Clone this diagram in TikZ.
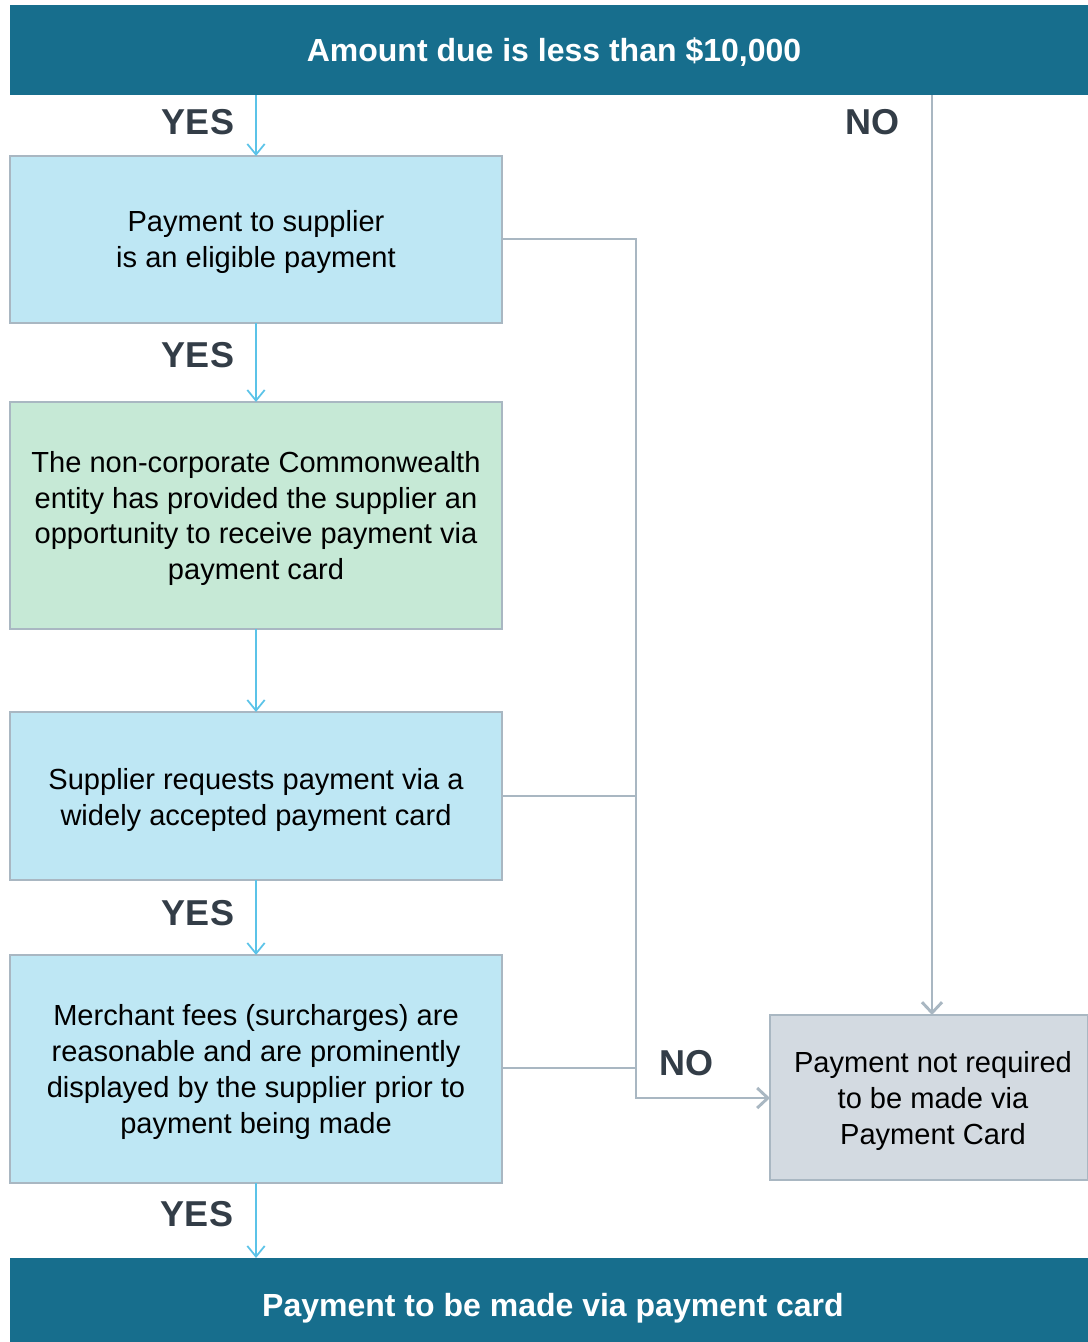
\documentclass[tikz,border=0pt]{standalone}
\usepackage{fontspec}
\setmainfont{Liberation Sans}
\usetikzlibrary{arrows.meta}
\definecolor{bar}{HTML}{176E8D}
\definecolor{lblue}{HTML}{BEE7F4}
\definecolor{lgreen}{HTML}{C6E9D6}
\definecolor{lgray}{HTML}{D3DAE1}
\definecolor{edge}{HTML}{A9B7C2}
\definecolor{arrblue}{HTML}{5BC3E8}
\definecolor{lbl}{HTML}{333D47}
\begin{document}
\begin{tikzpicture}[x=0.75pt,y=-0.75pt,
  barbox/.style={fill=bar,draw=none,text=white,font=\fontsize{24}{28}\selectfont\bfseries},
  box/.style={draw=edge,line width=0.8pt,align=center,font=\fontsize{21.8}{26.8}\selectfont,text=black},
  yesarr/.style={draw=arrblue,line width=1.5pt,-{Straight Barb[length=8pt,width=13pt,line width=1.3pt]}},
  noline/.style={draw=edge,line width=2.2pt},
  noarr/.style={draw=edge,line width=2.2pt,-{Straight Barb[length=8pt,width=15pt,line width=2.2pt]}},
  lab/.style={text=lbl,font=\fontsize{27}{31}\selectfont\bfseries}]
\useasboundingbox (0,0) rectangle (1088,1342);
% bars
\path[fill=bar] (10,5) rectangle (1088,95);
\node[barbox] (top) at (554,52) {Amount due is less than \$10,000};
\coordinate (topL) at (256,95);
\coordinate (topR) at (932,95);
\path[fill=bar] (10,1258) rectangle (1088,1342);
\node[barbox] (bot) at (553,1308) {Payment to be made via payment card};
\coordinate (botT) at (256,1258);
% boxes
\path[box,fill=lblue] (10,156) rectangle (502,323);
\node[box,draw=none] (b1) at (256,242) {Payment to supplier\\is an eligible payment};
\path[box,fill=lgreen] (10,402) rectangle (502,629);
\node[box,draw=none] (b2) at (256,518.5) {The non-corporate Commonwealth\\entity has provided the supplier an\\opportunity to receive payment via\\payment card};
\path[box,fill=lblue] (10,712) rectangle (502,880);
\node[box,draw=none] (b3) at (256,800) {Supplier requests payment via a\\widely accepted payment card};
\path[box,fill=lblue] (10,955) rectangle (502,1183);
\node[box,draw=none] (b4) at (256,1072) {Merchant fees (surcharges) are\\reasonable and are prominently\\displayed by the supplier prior to\\payment being made};
\path[box,fill=lgray] (770,1015) rectangle (1088,1180);
\node[box,draw=none] (r) at (933,1101) {Payment not required\\to be made via\\Payment Card};
% coordinates of box edges
\coordinate (b1T) at (256,156); \coordinate (b1B) at (256,323); \coordinate (b1R) at (502,239);
\coordinate (b2T) at (256,402); \coordinate (b2B) at (256,629);
\coordinate (b3T) at (256,712); \coordinate (b3B) at (256,880); \coordinate (b3R) at (502,796);
\coordinate (b4T) at (256,955); \coordinate (b4B) at (256,1183); \coordinate (b4R) at (502,1068);
\coordinate (rT) at (932,1015); \coordinate (rL) at (770,1098);
\coordinate (j1) at (636,239); \coordinate (j2) at (636,1098);
% yes arrows
\draw[yesarr] (topL) -- (b1T);
\draw[yesarr] (b1B) -- (b2T);
\draw[yesarr] (b2B) -- (b3T);
\draw[yesarr] (b3B) -- (b4T);
\draw[yesarr] (b4B) -- (botT);
% no lines
\draw[noline] (b3R) -- (636,796);
\draw[noline] (b4R) -- (636,1068);
\draw[noarr] (b1R) -- (j1) -- (j2) -- (rL);
\draw[noarr] (topR) -- (rT);
% labels
\node[lab] (y1) at (198,122) {YES};
\node[lab] (y2) at (198,355) {YES};
\node[lab] (y3) at (198,913) {YES};
\node[lab] (y4) at (197,1214) {YES};
\node[lab] (n1) at (872,122) {NO};
\node[lab] (n2) at (686,1063) {NO};
\end{tikzpicture}
\end{document}
